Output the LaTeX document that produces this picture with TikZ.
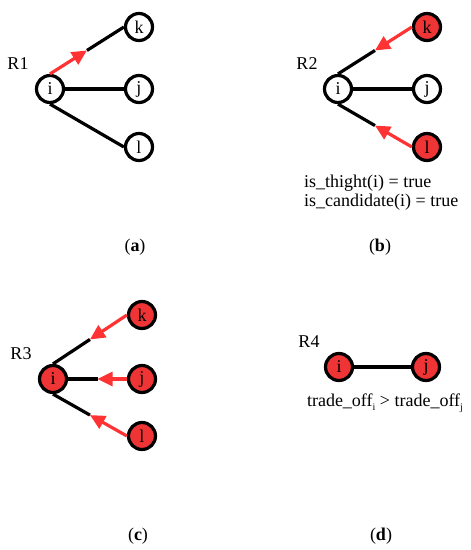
\documentclass[tikz,border=0pt]{standalone}
\usepackage{fontspec}
\setmainfont{Liberation Serif}
\usetikzlibrary{arrows.meta,calc}
\definecolor{nodered}{RGB}{238,52,52}
\definecolor{arrred}{RGB}{255,51,51}
\newcommand{\lowsub}[1]{\raisebox{-0.45ex}{\fontsize{10}{10}\selectfont #1}}
\begin{document}
\begin{tikzpicture}[x=1pt,y=-1pt,
  vtx/.style={circle,draw=black,line width=3.2pt,minimum size=27pt,inner sep=0pt,font=\fontsize{18}{18}\selectfont},
  hot/.style={vtx,fill=nodered},
  edge/.style={line width=3.2pt,black},
  redarr/.style={line width=3.2pt,arrred,-{Triangle[length=15pt,width=14pt]}},
  lbl/.style={font=\fontsize{18}{20}\selectfont,inner sep=0pt},
  capt/.style={font=\fontsize{18}{20}\selectfont,inner sep=0pt}]
\useasboundingbox (0,0) rectangle (471,550);
% ---------- (a)
\node[vtx] (ai) at (50,89) {i};
\node[vtx] (ak) at (139,27) {k};
\node[vtx] (aj) at (139,89) {j};
\node[vtx] (al) at (139,147) {l};
\node[lbl] (aR) at (18,64) {R1};
\coordinate (am) at ($(ai.north)!0.5!(ak.west)$);
\draw[edge] (am) -- (ak.west);
\draw[redarr] (ai.north) -- (am);
\draw[edge] (ai.east) -- (aj.west);
\draw[edge] (ai.south) -- (al.west);
\node[capt] (ca) at (135,247) {(\textbf{a})};
% ---------- (b)
\node[vtx] (bi) at (338,89) {i};
\node[hot] (bk) at (427,27) {k};
\node[vtx] (bj) at (427,89) {j};
\node[hot] (bl) at (427,147) {l};
\node[lbl] (bR) at (307,64) {R2};
\coordinate (bm1) at ($(bi.north)!0.5!(bk.west)$);
\coordinate (bm2) at ($(bi.south)!0.5!(bl.west)$);
\draw[edge] (bi.north) -- (bm1);
\draw[redarr] (bk.west) -- (bm1);
\draw[edge] (bi.east) -- (bj.west);
\draw[edge] (bi.south) -- (bm2);
\draw[redarr] (bl.west) -- (bm2);
\node[lbl,anchor=west] (bt1) at (304,183) {is\_thight(i) = true};
\node[lbl,anchor=west] (bt2) at (304,202) {is\_candidate(i) = true};
\node[capt] (cb) at (380,247) {(\textbf{b})};
% ---------- (c)
\node[hot] (ci) at (53,379) {i};
\node[hot] (ck) at (142,315) {k};
\node[hot] (cj) at (142,379) {j};
\node[hot] (cl) at (142,436) {l};
\node[lbl] (cR) at (21,354) {R3};
\coordinate (cm1) at ($(ci.north)!0.5!(ck.west)$);
\coordinate (cm2) at ($(ci.east)!0.5!(cj.west)$);
\coordinate (cm3) at ($(ci.south)!0.5!(cl.west)$);
\draw[edge] (ci.north) -- (cm1);
\draw[redarr] (ck.west) -- (cm1);
\draw[edge] (ci.east) -- (cm2);
\draw[redarr] (cj.west) -- (cm2);
\draw[edge] (ci.south) -- (cm3);
\draw[redarr] (cl.west) -- (cm3);
\node[capt] (cc) at (138,536) {(\textbf{c})};
% ---------- (d)
\node[hot] (di) at (339,367) {i};
\node[hot] (dj) at (426,367) {j};
\node[lbl] (dR) at (309,342) {R4};
\draw[edge] (di.east) -- (dj.west);
\node[lbl] (dt) at (385,403) {trade\_off\lowsub{i} > trade\_off\lowsub{j}};
\node[capt] (cd) at (381,536) {(\textbf{d})};
\end{tikzpicture}
\end{document}
